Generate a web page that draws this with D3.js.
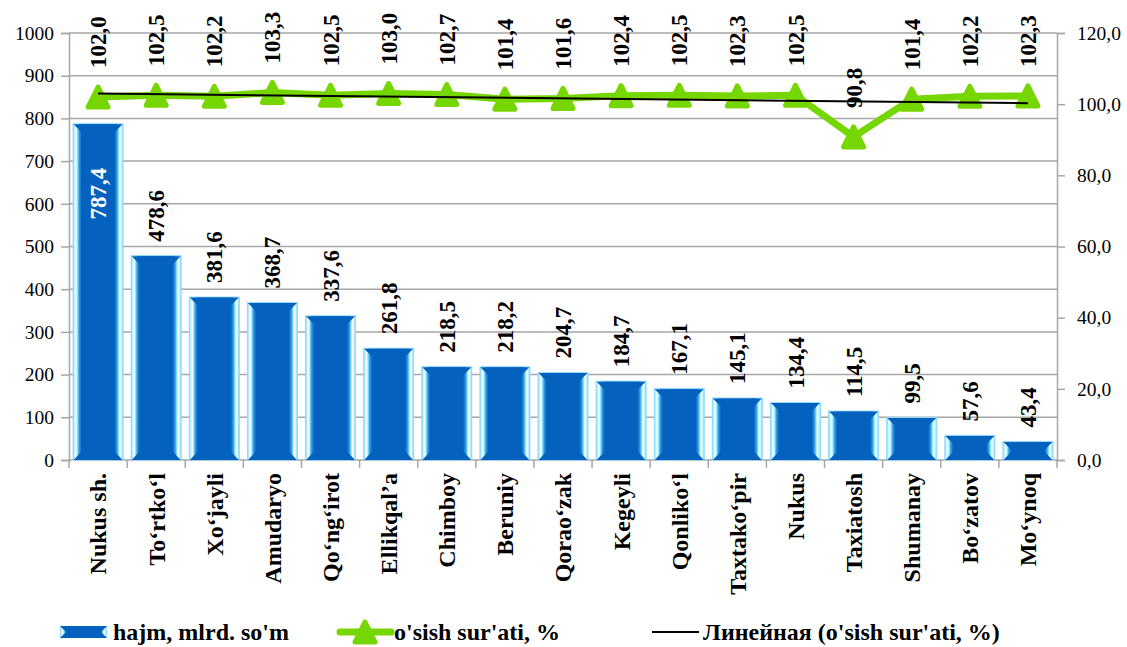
<!DOCTYPE html>
<html><head><meta charset="utf-8">
<script src="https://cdn.jsdelivr.net/npm/d3@7"></script>
<style>
html,body{margin:0;padding:0;background:#fff;}
svg{display:block;}
</style></head>
<body>
<svg id="chart" width="1127" height="647" font-family="Liberation Serif, Times New Roman, DejaVu Serif, serif"></svg>
<script>
const categories = ["Nukus sh.","To‘rtko‘l","Xo‘jayli","Amudaryo","Qo‘ng‘irot","Ellikqal’a","Chimboy","Beruniy","Qorao‘zak","Kegeyli","Qonliko‘l","Taxtako‘pir","Nukus","Taxiatosh","Shumanay","Bo‘zatov","Mo‘ynoq"];
const volume = [787.4,478.6,381.6,368.7,337.6,261.8,218.5,218.2,204.7,184.7,167.1,145.1,134.4,114.5,99.5,57.6,43.4];
const growth = [102.0,102.5,102.2,103.3,102.5,103.0,102.7,101.4,101.6,102.4,102.5,102.3,102.5,90.8,101.4,102.2,102.3];
const leftTicks = [0,100,200,300,400,500,600,700,800,900,1000];
const rightTicks = [0,20,40,60,80,100,120];
const seriesNames = ["hajm, mlrd. so'm","o'sish sur'ati, %","Линейная (o'sish sur'ati, %)"];

const FONT = "'Liberation Serif', 'Times New Roman', 'DejaVu Serif', serif";
const svg = d3.select("#chart");
const L = 69, R = 1057, T = 33, B = 460;
const green = "#76d600";
const grid = "#a6a6a6";

const x = d3.scaleBand().domain(categories).range([L, R]).paddingInner(0.14).paddingOuter(0.07);
const yL = d3.scaleLinear().domain([0, 1000]).range([B, T]);
const yR = d3.scaleLinear().domain([0, 120]).range([B, T]);
const fmt = v => d3.format(".1f")(v).replace(".", ",");

// defs
const defs = svg.append("defs");
const g1 = defs.append("linearGradient").attr("id","barGrad").attr("x1","0").attr("x2","1").attr("y1","0").attr("y2","0");
[[0,"#78d2f7"],[0.03,"#c6f2ff"],[0.06,"#ffffff"],[0.09,"#86e2ff"],[0.12,"#2f9fe3"],[0.17,"#0a63c0"],
 [0.83,"#0a63c0"],[0.88,"#2f9fe3"],[0.91,"#86e2ff"],[0.94,"#ffffff"],[0.97,"#c6f2ff"],[1,"#78d2f7"]]
 .forEach(([o,c]) => g1.append("stop").attr("offset", o).attr("stop-color", c));

// gridlines
svg.append("g").selectAll("line").data(leftTicks.filter(d => d > 0)).join("line")
  .attr("x1", L).attr("x2", R).attr("y1", d => yL(d)).attr("y2", d => yL(d))
  .attr("stroke", grid).attr("stroke-width", 1.5);

// axes
const axL = svg.append("g").attr("transform", `translate(${L},0)`)
  .call(d3.axisLeft(yL).tickValues(leftTicks).tickSize(8).tickPadding(7).tickFormat(d3.format("d")));
const axR = svg.append("g").attr("transform", `translate(${R},0)`)
  .call(d3.axisRight(yR).tickValues(rightTicks).tickSize(8).tickPadding(12).tickFormat(fmt));
[axL, axR].forEach(a => {
  a.attr("font-family", FONT);
  a.select(".domain").attr("stroke", grid).attr("stroke-width", 1.5);
  a.selectAll(".tick line").attr("stroke", grid).attr("stroke-width", 1.5);
  a.selectAll("text").attr("font-size", 19.5).attr("fill", "#000").attr("font-family", FONT);
});

// x axis line and boundary ticks
svg.append("line").attr("x1", L).attr("x2", R).attr("y1", B).attr("y2", B).attr("stroke", grid).attr("stroke-width", 1.5);
const bounds = d3.range(categories.length + 1).map(i => L + i * (R - L) / categories.length);
svg.append("g").selectAll("line").data(bounds).join("line")
  .attr("x1", d => d).attr("x2", d => d).attr("y1", B).attr("y2", B + 8)
  .attr("stroke", grid).attr("stroke-width", 1.5);

// x labels
svg.append("g").selectAll("text").data(categories).join("text")
  .attr("transform", d => `translate(${x(d) + x.bandwidth()/2},473) rotate(-90)`)
  .attr("text-anchor", "end").attr("dy", "0.35em").attr("font-family", FONT)
  .attr("font-size", 24).attr("font-weight", "bold").text(d => d);

// bars
const bw = x.bandwidth();
const bars = svg.append("g").selectAll("g").data(volume).join("g");
bars.append("rect")
  .attr("x", (d,i) => x(categories[i])).attr("y", d => yL(d))
  .attr("width", bw).attr("height", d => B - yL(d))
  .attr("fill", "url(#barGrad)").attr("stroke", "#8fdcff").attr("stroke-width", 1);
bars.append("path").attr("fill", "#0561be").attr("d", (d,i) => {
  const x0 = x(categories[i]), x1 = x0 + bw, y0 = yL(d), y1 = B;
  const b = Math.min(8.5, (y1 - y0) / 2);
  return `M${x0+0.5},${y0+0.5}L${x1-0.5},${y0+0.5}L${x1-b},${y0+b}L${x1-b},${y1-b}L${x1-0.5},${y1}L${x0+0.5},${y1}L${x0+b},${y1-b}L${x0+b},${y0+b}Z`;
});

// bar labels
svg.append("g").selectAll("text").data(volume).join("text")
  .attr("transform", (d,i) => {
    const cx = x(categories[i]) + bw/2;
    return i === 0 ? `translate(${cx},${yL(d) + 44}) rotate(-90)` : `translate(${cx},${yL(d) - 14}) rotate(-90)`;
  })
  .attr("text-anchor", (d,i) => i === 0 ? "end" : "start").attr("dy", "0.35em").attr("font-family", FONT)
  .attr("font-size", 23).attr("font-weight", "bold")
  .attr("fill", (d,i) => i === 0 ? "#fff" : "#000").text(fmt);

// growth line
const px = i => x(categories[i]) + bw/2;
const line = d3.line().x((d,i) => px(i)).y(d => yR(d));
svg.append("path").datum(growth).attr("d", line).attr("fill", "none")
  .attr("stroke", green).attr("stroke-width", 7).attr("stroke-linejoin", "round");
const tri = "M0,-10L10,10L-10,10Z";
svg.append("g").selectAll("path").data(growth).join("path")
  .attr("transform", (d,i) => `translate(${px(i)},${yR(d)})`)
  .attr("d", tri).attr("fill", green).attr("stroke", green).attr("stroke-width", 5).attr("stroke-linejoin", "round");

// linear trendline (least squares on growth series)
const n = growth.length, xs = d3.range(n);
const mx = d3.mean(xs), my = d3.mean(growth);
const slope = d3.sum(xs, i => (i - mx) * (growth[i] - my)) / d3.sum(xs, i => (i - mx) ** 2);
const icpt = my - slope * mx;
svg.append("line")
  .attr("x1", px(0)).attr("y1", yR(icpt))
  .attr("x2", px(n-1)).attr("y2", yR(icpt + slope * (n-1)))
  .attr("stroke", "#000").attr("stroke-width", 2);

// growth labels
svg.append("g").selectAll("text").data(growth).join("text")
  .attr("transform", (d,i) => `translate(${px(i)},${yR(d) - 29}) rotate(-90)`)
  .attr("text-anchor", "start").attr("dy", "0.35em").attr("font-family", FONT)
  .attr("font-size", 23).attr("font-weight", "bold").text(fmt);

// legend
const lg = svg.append("g").attr("font-size", 24).attr("font-weight", "bold").attr("font-family", FONT);
const ly = 632;
lg.append("rect").attr("x", 60).attr("y", ly - 6).attr("width", 47).attr("height", 12).attr("fill", "url(#barGrad)");
lg.append("path").attr("fill", "#0561be").attr("d", `M60,${ly-6}L107,${ly-6}L101,${ly}L107,${ly+6}L60,${ly+6}L66,${ly}Z`);
lg.append("text").attr("x", 113).attr("y", ly).attr("dy", "0.35em").text(seriesNames[0]);
lg.append("line").attr("x1", 340).attr("x2", 391).attr("y1", ly).attr("y2", ly).attr("stroke", green).attr("stroke-width", 7).attr("stroke-linecap", "round");
lg.append("path").attr("transform", `translate(365,${ly})`).attr("d", tri).attr("fill", green).attr("stroke", green).attr("stroke-width", 5).attr("stroke-linejoin", "round");
lg.append("text").attr("x", 394).attr("y", ly).attr("dy", "0.35em").text(seriesNames[1]);
lg.append("line").attr("x1", 652).attr("x2", 699).attr("y1", ly).attr("y2", ly).attr("stroke", "#000").attr("stroke-width", 2);
lg.append("text").attr("x", 703).attr("y", ly).attr("dy", "0.35em").text(seriesNames[2]);
</script>
</body></html>
